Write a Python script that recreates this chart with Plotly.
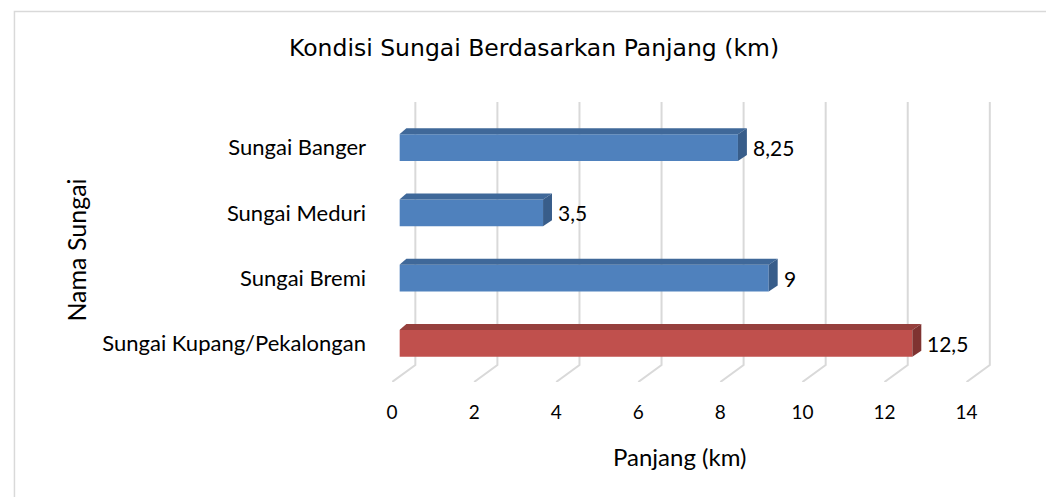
import plotly.graph_objects as go

# ---- data ----
categories = ["Sungai Kupang/Pekalongan", "Sungai Bremi", "Sungai Meduri", "Sungai Banger"]
lengths_km = [12.5, 9, 3.5, 8.25]
highlight = [True, False, False, False]
x_ticks = [0, 2, 4, 6, 8, 10, 12, 14]

title_text = "Kondisi Sungai Berdasarkan Panjang (km)"
x_title = "Panjang (km)"
y_title = "Nama Sungai"

# ---- style ----
W, H = 1046, 497
BLUE = ("#4F81BD", "#3F6899", "#385D8A")
RED = ("#C0504D", "#96403D", "#7F3331")
GRID = "#D9D9D9"
BODY_FONT = "Lato"
TITLE_FONT = "DejaVu Sans"

def px_x(a, b):
    return [a / W, b / W]

def px_y(top, bottom):
    return [1 - bottom / H, 1 - top / H]

UNIT = 41.27
bar0 = 395.7
front0 = 388.3
back0 = 411.7
wall_top, wall_bottom, floor_front = 102, 365, 382

fig = go.Figure()

# ---- back wall + floor lines (subplot xy, drawn first = behind) ----
shift = (back0 - front0) / UNIT
yb = (floor_front - wall_bottom) / (floor_front - wall_top)
gx, gy = [], []
for t in x_ticks:
    gx += [t, t + shift, t + shift, None]
    gy += [0, yb, 1, None]
fig.add_trace(go.Scatter(x=gx, y=gy, mode="lines", line=dict(color=GRID, width=2),
                         hoverinfo="skip", showlegend=False, xaxis="x", yaxis="y"))

# ---- bars (subplot x2y2) ----
ypos = list(range(len(categories)))
bar_w = 0.41
dy = 6 / 65.2
dxl = 7 / UNIT
dxr = 9 / UNIT

fig.add_trace(go.Bar(
    x=lengths_km, y=ypos, orientation="h", width=bar_w,
    marker=dict(color=[RED[0] if h else BLUE[0] for h in highlight], line=dict(width=0)),
    hoverinfo="skip", showlegend=False, xaxis="x2", yaxis="y2",
))

annotations = []
for v, yc, h in zip(lengths_km, ypos, highlight):
    cols = RED if h else BLUE
    yt = yc + bar_w / 2
    ybt = yc - bar_w / 2
    fig.add_trace(go.Scatter(
        x=[0, dxl, v + dxr, v, 0], y=[yt, yt + dy, yt + dy, yt, yt],
        fill="toself", fillcolor=cols[1], mode="lines", line=dict(width=0),
        hoverinfo="skip", showlegend=False, xaxis="x2", yaxis="y2", cliponaxis=False,
    ))
    fig.add_trace(go.Scatter(
        x=[v, v + dxr, v + dxr, v, v], y=[yt, yt + dy, ybt + dy, ybt, yt],
        fill="toself", fillcolor=cols[2], mode="lines", line=dict(width=0),
        hoverinfo="skip", showlegend=False, xaxis="x2", yaxis="y2", cliponaxis=False,
    ))
    annotations.append(dict(
        x=v, y=yc, xref="x2", yref="y2", text=f"{v:g}".replace(".", ","),
        showarrow=False, xanchor="left", yanchor="middle", xshift=13,
        font=dict(family=BODY_FONT, size=21, color="#000000"),
    ))

annotations += [
    dict(text=title_text, xref="paper", yref="paper", x=531 / W, y=1 - 48 / H,
         showarrow=False, xanchor="center", yanchor="middle",
         font=dict(family=TITLE_FONT, size=23.5, color="#000000")),
    dict(text=x_title, xref="paper", yref="paper", x=677 / W, y=1 - 456 / H,
         showarrow=False, xanchor="center", yanchor="middle",
         font=dict(family=BODY_FONT, size=24, color="#000000")),
    dict(text=y_title, xref="paper", yref="paper", x=70 / W, y=1 - 250 / H,
         showarrow=False, xanchor="center", yanchor="middle", textangle=-90,
         font=dict(family=BODY_FONT, size=25, color="#000000")),
]

fig.update_layout(
    width=W, height=H, margin=dict(l=0, r=0, t=0, b=0),
    paper_bgcolor="white", plot_bgcolor="rgba(0,0,0,0)",
    barmode="overlay",
    xaxis=dict(domain=px_x(front0, front0 + 15 * UNIT), range=[0, 15], anchor="y",
               tickvals=x_ticks, ticktext=[str(t) for t in x_ticks], showgrid=False,
               zeroline=False, showline=False, ticks="outside", ticklen=13,
               tickcolor="rgba(0,0,0,0)",
               tickfont=dict(family=BODY_FONT, size=19, color="#000000")),
    yaxis=dict(domain=px_y(wall_top, floor_front), range=[0, 1], anchor="x", visible=False),
    xaxis2=dict(domain=px_x(bar0, bar0 + 14 * UNIT), range=[0, 14], visible=False, anchor="y2"),
    yaxis2=dict(domain=px_y(115.1, 375.9), range=[-0.5, 3.5], anchor="x2",
                tickvals=ypos, ticktext=categories, ticks="outside", ticklen=28,
                tickcolor="rgba(0,0,0,0)", showgrid=False, zeroline=False, showline=False,
                tickfont=dict(family=BODY_FONT, size=22, color="#000000")),
    shapes=[dict(type="rect", xref="paper", yref="paper",
                 x0=8.5 / W, x1=1.02, y0=-0.03, y1=1 - 11.5 / H,
                 line=dict(color=GRID, width=1.5), fillcolor="rgba(0,0,0,0)", layer="below")],
    annotations=annotations,
)

fig.write_html(
    "out.html",
    config={"displayModeBar": False},
    post_script="document.body.style.margin='0';document.body.style.overflow='hidden';",
)
